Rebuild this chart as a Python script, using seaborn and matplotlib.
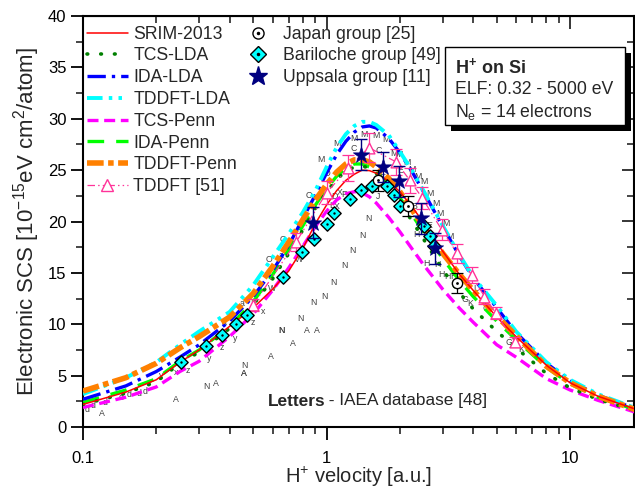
import matplotlib
matplotlib.use("Agg")
import matplotlib.pyplot as plt
import matplotlib.ticker as mticker
from matplotlib.lines import Line2D
from matplotlib.patches import Rectangle
import numpy as np
import pandas as pd
import seaborn as sns

# ---------------- data ----------------
v_grid = [0.1, 0.15, 0.2, 0.25, 0.3, 0.4, 0.5, 0.6, 0.7, 0.8, 0.9, 1.0, 1.1, 1.2, 1.3,
          1.4, 1.5, 1.6, 1.8, 2.0, 2.25, 2.5, 3.0, 3.5, 4.0, 5.0, 6.0, 8.0, 10.0, 13.0, 18.5]

srim_2013 = [2.2, 3.4, 4.6, 6.3, 7.5, 9.8, 11.6, 13.4, 15.2, 17.4, 19.8, 21.6, 23.0, 24.0, 24.6,
             25.0, 24.95, 24.7, 23.9, 22.9, 21.4, 19.9, 17.1, 14.9, 13.3, 10.7, 8.8, 6.0, 4.3, 3.0, 1.75]
tcs_lda = [2.2, 3.3, 4.4, 6.2, 7.3, 9.6, 11.9, 14.4, 16.9, 19.2, 21.3, 22.9, 24.1, 24.9, 25.3,
           25.4, 25.2, 24.7, 23.4, 21.9, 20.0, 18.3, 15.3, 13.1, 11.5, 9.3, 7.7, 5.2, 3.8, 2.7, 1.6]
ida_lda = [2.7, 4.0, 5.4, 6.8, 8.0, 10.3, 12.7, 15.2, 17.7, 20.3, 22.6, 24.7, 26.5, 27.8, 28.7,
           29.2, 29.3, 29.1, 28.1, 26.7, 24.8, 22.9, 19.5, 16.7, 14.5, 11.6, 9.2, 6.2, 4.5, 3.1, 1.8]
tddft_lda = [3.2, 4.8, 6.3, 8.0, 9.3, 11.2, 13.8, 16.5, 18.8, 20.9, 23.0, 25.3, 27.2, 28.5, 29.3,
             29.7, 29.7, 29.4, 28.4, 26.8, 24.9, 23.0, 19.6, 16.8, 14.6, 11.8, 9.3, 6.3, 4.6, 3.2, 1.85]
tcs_penn = [1.9, 2.9, 3.9, 5.4, 6.4, 8.8, 11.0, 13.3, 15.5, 17.6, 19.5, 21.0, 22.1, 22.7, 22.9,
            22.8, 22.4, 21.8, 20.4, 19.0, 17.3, 15.8, 13.4, 11.6, 10.2, 8.0, 6.8, 4.7, 3.6, 2.6, 1.45]
ida_penn = [2.4, 3.6, 4.7, 6.4, 7.5, 9.8, 12.2, 14.8, 17.3, 19.6, 21.6, 23.2, 24.4, 25.2, 25.6,
            25.6, 25.3, 24.8, 23.6, 22.3, 20.6, 19.0, 16.4, 14.3, 12.7, 10.3, 8.5, 5.8, 4.2, 2.9, 1.7]
tddft_penn = [3.5, 4.8, 6.2, 7.7, 8.8, 10.7, 13.0, 15.6, 18.0, 20.2, 22.1, 23.6, 24.8, 25.6, 26.0,
              26.0, 25.8, 25.3, 24.2, 22.9, 21.1, 19.5, 16.9, 14.9, 13.3, 10.8, 8.9, 5.9, 4.3, 3.0, 1.7]

tddft51_v = [0.50, 0.75, 1.0, 1.23, 1.49, 1.93, 2.2, 2.47, 2.97, 3.44, 3.94, 4.45, 4.95, 5.93]
tddft51_val = [11.9, 18.0, 22.8, 25.2, 27.2, 25.8, 24.0, 22.3, 19.2, 16.9, 14.8, 12.7, 11.1, 8.3]
tddft51_err = [0.6, 0.9, 1.1, 1.3, 1.4, 1.3, 1.2, 1.1, 1.0, 0.9, 0.8, 0.7, 0.6, 0.5]

japan_v = [1.63, 2.16, 3.42]
japan_val = [24.0, 21.5, 14.0]
japan_err = [1.0, 1.0, 1.0]

bariloche_v = [0.253, 0.321, 0.372, 0.424, 0.470, 0.663, 0.795, 0.886, 1.0, 1.07, 1.25, 1.39,
               1.53, 1.77, 1.90, 2.0, 2.51, 2.65, 2.77]
bariloche_val = [6.3, 7.9, 9.0, 10.0, 10.9, 14.6, 17.0, 18.3, 19.8, 20.8, 22.2, 23.1,
                 23.5, 23.5, 22.6, 21.5, 19.6, 18.6, 17.6]

uppsala_v = [0.88, 1.39, 1.70, 1.98, 2.44, 2.78]
uppsala_val = [19.9, 26.5, 25.3, 23.9, 20.3, 17.4]
uppsala_err = [1.5, 1.5, 1.5, 1.5, 1.5, 1.5]

iaea_sym = ["d", "d", "d", "d", "d", "d", "d",
            "A", "A", "A", "A", "A", "A", "A", "A", "A",
            "N", "N", "N", "N", "N", "N", "N", "N", "N", "N", "N", "N",
            "M", "M", "M", "M", "M", "M", "M", "M", "M", "M", "M", "M", "M", "M", "M", "M", "M",
            "H", "H", "H", "H", "H", "H", "C", "C", "O", "O", "O", "O", "a", "a", "a", "J",
            "y", "x", "z", "y", "z", "y", "z", "x", "W", "W",
            "X", "D", "P", "L", "X", "E", "E", "F", "B", "E", "G", "K", "G", "K", "L", "G"]
iaea_v = [0.104, 0.11, 0.123, 0.143, 0.155, 0.17, 0.18,
          0.12, 0.24, 0.35, 0.46, 0.46, 0.59, 0.73, 0.83, 0.91,
          0.32, 0.46, 0.65, 0.78, 0.88, 0.98, 1.07, 1.18, 1.28, 1.40, 1.49, 0.65,
          1.10, 1.29, 1.43, 1.76, 1.90, 1.99, 2.14, 2.25, 2.38, 2.50, 2.66, 2.80, 2.92, 3.08, 3.20, 1.60, 0.95,
          2.35, 2.57, 2.85, 2.96, 3.13, 3.32, 1.29, 1.63, 0.58, 0.66, 1.0, 0.85, 0.45, 0.65, 0.38, 1.63,
          0.21, 0.24, 0.27, 0.33, 0.37, 0.42, 0.50, 0.55, 0.77, 0.60,
          1.13, 1.08, 1.18, 1.05, 1.10, 1.70, 2.0, 1.50, 2.30, 2.65, 3.70, 3.90, 5.60, 6.30, 4.10, 4.50]
iaea_val = [1.75, 2.1, 2.4, 2.9, 3.2, 3.3, 3.5,
            1.3, 2.7, 4.25, 5.2, 5.2, 6.9, 8.1, 9.4, 9.4,
            3.9, 6.0, 9.4, 10.6, 12.1, 12.7, 14.1, 15.7, 17.2, 18.6, 20.3, 9.4,
            27.6, 28.1, 28.5, 28.0, 26.6, 26.5, 25.7, 25.1, 24.4, 23.9, 22.7, 21.8, 20.8, 19.8, 18.5, 28.4, 26.0,
            18.7, 15.9, 15.8, 14.8, 14.6, 14.6, 27.1, 26.9, 16.3, 18.2, 24.7, 22.5, 12.0, 16.7, 10.2, 22.4,
            5.0, 5.3, 5.5, 6.7, 7.7, 8.6, 10.2, 11.2, 16.3, 13.5,
            22.8, 22.4, 22.6, 21.6, 21.5, 24.8, 25.0, 25.6, 21.5, 19.6, 12.4, 12.0, 8.2, 7.5, 13.5, 11.5]

# ---------------- style ----------------
sns.set_style("ticks")
plt.rcParams["font.family"] = ["Liberation Sans", "DejaVu Sans"]
plt.rcParams["mathtext.fontset"] = "custom"
plt.rcParams["mathtext.rm"] = "Liberation Sans"
plt.rcParams["mathtext.it"] = "Liberation Sans:italic"
plt.rcParams["mathtext.bf"] = "Liberation Sans:bold"

fig = plt.figure(figsize=(6.35, 4.88), dpi=100)
W, H = 635.0, 488.0
ax = fig.add_axes([83 / W, (H - 427) / H, (634 - 83) / W, (427 - 16) / H])

# IAEA letters (background)
for s_, xv, yv in zip(iaea_sym, iaea_v, iaea_val):
    ax.text(xv, yv, s_, fontsize=6.3, color="#404040", ha="center", va="center", zorder=1)

# model curves
models = [
    ("TCS-Penn", tcs_penn, dict(color="#FF00FF", lw=2.4, ls=(0, (3.3, 1.7)))),
    ("IDA-Penn", ida_penn, dict(color="#00FF00", lw=2.4, ls=(0, (5.0, 3.6)))),
    ("TCS-LDA", tcs_lda, dict(color="#008000", lw=2.6, ls=(0, (0.2, 3.6)), dash_capstyle="round")),
    ("IDA-LDA", ida_lda, dict(color="#0000FF", lw=2.4, ls=(0, (5.5, 1.8, 1.0, 1.8)))),
    ("TDDFT-LDA", tddft_lda, dict(color="#00FFFF", lw=2.8, ls=(0, (4.0, 1.6, 0.9, 1.6, 0.9, 1.6)))),
    ("TDDFT-Penn", tddft_penn, dict(color="#FF8000", lw=4.0, ls=(0, (3.0, 0.8, 1.0, 0.8)))),
    ("SRIM-2013", srim_2013, dict(color="#FF0000", lw=1.1, ls="-")),
]
handles = {}
for name, vals, st in models:
    d = pd.DataFrame({"v": v_grid, "scs": vals})
    kw = dict(st)
    c = kw.pop("color"); lw = kw.pop("lw"); ls = kw.pop("ls")
    sns.lineplot(data=d, x="v", y="scs", ax=ax, color=c, linewidth=lw, linestyle=ls,
                 sort=False, zorder=3, **kw)
    handles[name] = Line2D([], [], color=c, lw=lw, ls=ls, **kw)

# TDDFT [51]
pink = "#FF3399"
d51 = pd.DataFrame({"v": tddft51_v, "scs": tddft51_val})
ax.errorbar(tddft51_v, tddft51_val, yerr=tddft51_err, fmt="none", ecolor=pink,
            elinewidth=0.9, capsize=4, capthick=0.9, zorder=4)
sns.lineplot(data=d51, x="v", y="scs", ax=ax, color=pink, linewidth=0.9,
             linestyle=(0, (6, 2.5, 1.2, 2.5, 1.2, 2.5)), sort=False, zorder=4)
sns.scatterplot(data=d51, x="v", y="scs", ax=ax, marker="^", s=60, facecolor="white",
                edgecolor=pink, linewidth=1.0, zorder=5)
handles["TDDFT [51]"] = Line2D([], [], color=pink, lw=0.9, ls=(0, (6, 2.5, 1.2, 2.5, 1.2, 2.5)),
                                marker="^", ms=8, mfc="white", mec=pink)

# Bariloche diamonds
dbar = pd.DataFrame({"v": bariloche_v, "scs": bariloche_val})
sns.scatterplot(data=dbar, x="v", y="scs", ax=ax, marker="D", s=46, facecolor="#00FFFF",
                edgecolor="black", linewidth=1.0, zorder=6)
sns.scatterplot(data=dbar, x="v", y="scs", ax=ax, marker="o", s=3, color="black",
                linewidth=0, zorder=7)

# Japan circles
djp = pd.DataFrame({"v": japan_v, "scs": japan_val})
ax.errorbar(japan_v, japan_val, yerr=japan_err, fmt="none", ecolor="black",
            elinewidth=0.9, capsize=4, capthick=0.9, zorder=6)
sns.scatterplot(data=djp, x="v", y="scs", ax=ax, marker="o", s=55, facecolor="white",
                edgecolor="black", linewidth=1.0, zorder=7)
sns.scatterplot(data=djp, x="v", y="scs", ax=ax, marker="o", s=4, color="black",
                linewidth=0, zorder=8)

# Uppsala stars
dup = pd.DataFrame({"v": uppsala_v, "scs": uppsala_val})
ax.errorbar(uppsala_v, uppsala_val, yerr=uppsala_err, fmt="none", ecolor="#000080",
            elinewidth=1.0, capsize=4, capthick=1.0, zorder=8)
sns.scatterplot(data=dup, x="v", y="scs", ax=ax, marker="*", s=150, color="#000080",
                edgecolor="#000080", linewidth=0.5, zorder=9)

# ---------------- axes ----------------
ax.set_xscale("log")
ax.set_xlim(0.1, 18.3)
ax.set_ylim(0, 40)
ax.xaxis.set_major_locator(mticker.FixedLocator([0.1, 1, 10]))
ax.xaxis.set_major_formatter(mticker.FixedFormatter(["0.1", "1", "10"]))
ax.xaxis.set_minor_locator(mticker.LogLocator(base=10, subs=np.arange(2, 10)))
ax.xaxis.set_minor_formatter(mticker.NullFormatter())
ax.yaxis.set_major_locator(mticker.MultipleLocator(5))
ax.yaxis.set_minor_locator(mticker.MultipleLocator(2.5))
ax.tick_params(which="major", direction="out", length=9, width=1.3, labelsize=12, pad=3,
               colors="black")
ax.tick_params(axis="x", which="major", pad=8)
ax.tick_params(which="minor", direction="out", length=5, width=1.2)
for sp in ax.spines.values():
    sp.set_linewidth(1.5)
    sp.set_color("black")

secx = ax.secondary_xaxis("top")
secx.xaxis.set_major_locator(mticker.FixedLocator([0.1, 1, 10]))
secx.xaxis.set_minor_locator(mticker.LogLocator(base=10, subs=np.arange(2, 10)))
secx.tick_params(which="major", direction="in", length=9, width=1.3, labeltop=False)
secx.tick_params(which="minor", direction="in", length=5, width=1.2)
secx.xaxis.set_major_formatter(mticker.NullFormatter())
secx.xaxis.set_minor_formatter(mticker.NullFormatter())
secy = ax.secondary_yaxis("right")
secy.yaxis.set_major_locator(mticker.MultipleLocator(5))
secy.yaxis.set_minor_locator(mticker.MultipleLocator(2.5))
secy.tick_params(which="major", direction="in", length=9, width=1.3, labelright=False)
secy.tick_params(which="minor", direction="in", length=5, width=1.2)

ax.set_xlabel(r"H$^{\mathregular{+}}$ velocity [a.u.]", fontsize=14.5, labelpad=-0.5)
ax.set_ylabel(r"Electronic SCS [10$^{\mathregular{-15}}$eV cm$^{\mathregular{2}}$/atom]",
              fontsize=16, labelpad=4)

# ---------------- legends ----------------
order = ["SRIM-2013", "TCS-LDA", "IDA-LDA", "TDDFT-LDA", "TCS-Penn", "IDA-Penn",
         "TDDFT-Penn", "TDDFT [51]"]
leg1 = ax.legend([handles[k] for k in order], order, loc="upper left",
                 bbox_to_anchor=(0.0, 0.985), frameon=False, fontsize=12.7,
                 handlelength=2.35, handletextpad=0.3, labelspacing=0.27,
                 borderpad=0.2, borderaxespad=0.0)
ax.add_artist(leg1)

h_jp = (Line2D([], [], ls="none", marker="o", ms=8, mfc="white", mec="black", mew=1.0),
        Line2D([], [], ls="none", marker="o", ms=1.5, color="black"))
h_ba = (Line2D([], [], ls="none", marker="D", ms=8, mfc="#00FFFF", mec="black", mew=1.0),
        Line2D([], [], ls="none", marker="o", ms=1.5, color="black"))
h_up = Line2D([], [], ls="none", marker="*", ms=14, color="#000080")
leg2 = ax.legend([h_jp, h_ba, h_up],
                 ["Japan group [25]", "Bariloche group [49]", "Uppsala group [11]"],
                 loc="upper left", bbox_to_anchor=(0.295, 0.985), frameon=False,
                 fontsize=12.7, handlelength=1.0, handletextpad=0.9, labelspacing=0.27,
                 borderpad=0.2, borderaxespad=0.0)

# ---------------- annotation box with shadow ----------------
def fx(px):
    return px / W

def fy(py):
    return (H - py) / H

bx0, bx1, by0, by1, sh = 445, 625, 47, 125, 6
fig.patches.append(Rectangle((fx(bx0 + sh), fy(by1 + sh)), fx(bx1 - bx0), (by1 - by0) / H,
                             transform=fig.transFigure, facecolor="black", edgecolor="none",
                             zorder=10))
fig.patches.append(Rectangle((fx(bx0), fy(by1)), fx(bx1 - bx0), (by1 - by0) / H,
                             transform=fig.transFigure, facecolor="white", edgecolor="black",
                             linewidth=1.0, zorder=11))
fig.text(fx(455), fy(67), r"$\mathbf{H^{+}}$ on Si", fontsize=13, fontweight="bold",
         va="center", ha="left", zorder=12)
fig.text(fx(455), fy(90), "ELF: 0.32 - 5000 eV", fontsize=12.7, va="center", ha="left", zorder=12)
fig.text(fx(455), fy(112), r"N$_{\mathregular{e}}$ = 14 electrons", fontsize=12.7,
         va="center", ha="left", zorder=12)

# IAEA note
fig.text(fx(268), fy(401), "Letters", fontsize=12.4, fontweight="bold", va="center", ha="left")
fig.text(fx(268 + 56), fy(401), " - IAEA database [48]", fontsize=12.4, va="center", ha="left")

fig.savefig("out.png", dpi=100)
